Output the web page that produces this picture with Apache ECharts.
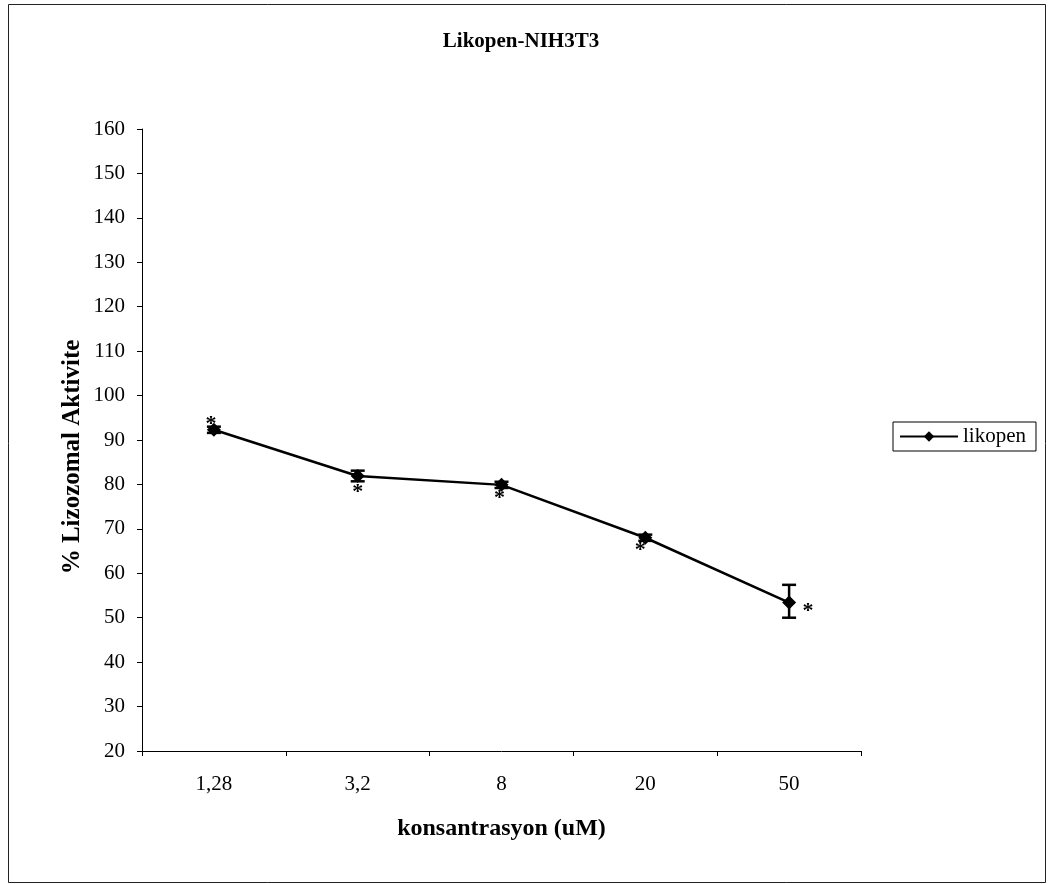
<!DOCTYPE html>
<html>
<head>
<meta charset="utf-8">
<script src="https://cdn.jsdelivr.net/npm/echarts@6/dist/echarts.min.js"></script>
<style>html,body{margin:0;padding:0;background:#fff;}#c{width:1049px;height:884px;}</style>
</head>
<body>
<div id="c"></div>
<script>
const categories = ['1,28', '3,2', '8', '20', '50'];
const values = [92.3, 81.9, 79.9, 68.0, 53.4];
const errLow = [91.6, 80.7, 79.2, 67.3, 50.0];
const errHigh = [93.0, 83.1, 80.6, 68.7, 57.4];
const significance = ['*', '*', '*', '*', '*'];
const yMin = 20, yMax = 160, yStep = 10;

const FONT = '"Liberation Serif", "DejaVu Serif", serif';
// asterisk offsets (pixels) relative to each point
const starOffsets = [[-3, -5], [0, 16], [-2, 13], [-5, 13], [19, 9]];

const chart = echarts.init(document.getElementById('c'));
chart.setOption({
  animation: false,
  backgroundColor: '#fff',
  graphic: [{
    type: 'rect', shape: {x: 8.5, y: 4.5, width: 1037, height: 878},
    style: {fill: 'none', stroke: '#222', lineWidth: 1}, silent: true, z: -1
  }, {
    type: 'text', x: 521, y: 42,
    style: {text: 'Likopen-NIH3T3', font: 'bold 21px ' + FONT, fill: '#000',
            align: 'center', verticalAlign: 'middle'}
  }, {
    type: 'text', x: 73, y: 457, rotation: Math.PI / 2,
    style: {text: '% Lizozomal Aktivite', font: 'bold 25px ' + FONT, fill: '#000',
            align: 'center', verticalAlign: 'middle'}
  }],
  legend: {
    left: 893, top: 422,
    data: ['likopen'],
    itemWidth: 58, itemHeight: 13, itemGap: 4,
    padding: [4, 10, 4, 6],
    borderColor: '#000', borderWidth: 1,
    textStyle: {fontFamily: FONT, fontSize: 21, color: '#000'}
  },
  grid: {left: 142, right: 188, top: 129, bottom: 133, containLabel: false},
  xAxis: {
    type: 'category', data: categories, boundaryGap: true,
    name: 'konsantrasyon (uM)', nameLocation: 'middle', nameGap: 66,
    nameTextStyle: {fontFamily: FONT, fontSize: 24, fontWeight: 'bold', color: '#000'},
    axisLine: {lineStyle: {color: '#000', width: 1}},
    axisTick: {show: true, length: 5, lineStyle: {color: '#000'}},
    axisLabel: {fontFamily: FONT, fontSize: 21, color: '#000', margin: 23},
    splitLine: {show: false}
  },
  yAxis: {
    type: 'value', min: yMin, max: yMax, interval: yStep,
    axisLine: {show: true, lineStyle: {color: '#000', width: 1}},
    axisTick: {show: true, length: 5, lineStyle: {color: '#000'}},
    axisLabel: {fontFamily: FONT, fontSize: 21, color: '#000', margin: 17},
    splitLine: {show: false}
  },
  series: [
    {
      name: 'likopen', type: 'line', data: values,
      symbol: 'diamond', symbolSize: 14,
      lineStyle: {color: '#000', width: 2.5},
      itemStyle: {color: '#000'},
      z: 3
    },
    {
      name: 'err', type: 'custom',
      data: categories.map((c, i) => [i, errLow[i], errHigh[i], values[i]]),
      renderItem: function (params, api) {
        const i = api.value(0);
        const lo = api.coord([i, api.value(1)]);
        const hi = api.coord([i, api.value(2)]);
        const mid = api.coord([i, api.value(3)]);
        const hw = 7;
        const st = {stroke: '#000', lineWidth: 2.5};
        const off = starOffsets[params.dataIndex];
        return {
          type: 'group',
          children: [
            {type: 'line', shape: {x1: lo[0], y1: lo[1], x2: hi[0], y2: hi[1]}, style: st},
            {type: 'line', shape: {x1: lo[0] - hw, y1: lo[1], x2: lo[0] + hw, y2: lo[1]}, style: st},
            {type: 'line', shape: {x1: hi[0] - hw, y1: hi[1], x2: hi[0] + hw, y2: hi[1]}, style: st},
            {type: 'text', style: {
              text: significance[params.dataIndex],
              x: mid[0] + off[0], y: mid[1] + off[1],
              align: 'center', verticalAlign: 'middle',
              font: 'bold 22px ' + FONT, fill: '#000'
            }}
          ]
        };
      },
      z: 4
    }
  ]
});
</script>
</body>
</html>
